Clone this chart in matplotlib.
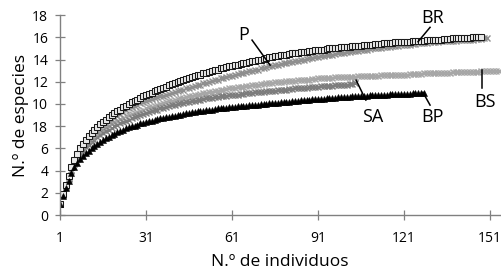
import matplotlib.pyplot as plt
import numpy as np

# species accumulation values, one per individual
br = [1.00, 1.90, 2.70, 3.50, 4.30, 5.00, 5.50, 6.00, 6.40, 6.80,
      7.10, 7.40, 7.70, 7.95, 8.20, 8.40, 8.60, 8.80, 9.00, 9.20,
      9.35, 9.50, 9.70, 9.85, 10.00, 10.15, 10.30, 10.40, 10.55, 10.70,
      10.80, 10.90, 11.00, 11.15, 11.25, 11.35, 11.45, 11.55, 11.70, 11.80,
      11.90, 12.00, 12.05, 12.15, 12.25, 12.35, 12.45, 12.50, 12.60, 12.65,
      12.75, 12.80, 12.90, 12.95, 13.05, 13.10, 13.20, 13.25, 13.30, 13.40,
      13.45, 13.50, 13.55, 13.60, 13.65, 13.70, 13.75, 13.85, 13.90, 13.95,
      14.00, 14.05, 14.10, 14.20, 14.25, 14.30, 14.35, 14.40, 14.40, 14.45,
      14.50, 14.55, 14.60, 14.60, 14.65, 14.70, 14.70, 14.75, 14.80, 14.85,
      14.85, 14.90, 14.90, 14.95, 15.00, 15.00, 15.05, 15.05, 15.10, 15.10,
      15.15, 15.15, 15.20, 15.20, 15.25, 15.25, 15.30, 15.30, 15.35, 15.35,
      15.40, 15.40, 15.40, 15.45, 15.45, 15.50, 15.50, 15.55, 15.55, 15.55,
      15.60, 15.60, 15.60, 15.65, 15.65, 15.70, 15.70, 15.70, 15.75, 15.75,
      15.75, 15.80, 15.80, 15.80, 15.85, 15.85, 15.85, 15.90, 15.90, 15.90,
      15.90, 15.95, 15.95, 15.95, 16.00, 16.00, 16.00, 16.00]

p = [1.00, 1.85, 2.60, 3.35, 4.10, 4.80, 5.30, 5.75, 6.15, 6.50,
     6.80, 7.05, 7.30, 7.55, 7.80, 8.00, 8.20, 8.40, 8.60, 8.80,
     8.95, 9.10, 9.25, 9.45, 9.60, 9.70, 9.80, 9.95, 10.05, 10.20,
     10.30, 10.40, 10.45, 10.55, 10.60, 10.70, 10.75, 10.85, 10.90, 11.00,
     11.10, 11.15, 11.25, 11.30, 11.40, 11.45, 11.55, 11.60, 11.70, 11.75,
     11.85, 11.90, 12.00, 12.05, 12.15, 12.20, 12.30, 12.35, 12.45, 12.50,
     12.55, 12.60, 12.70, 12.75, 12.80, 12.85, 12.95, 13.00, 13.05, 13.10,
     13.20, 13.25, 13.30, 13.40, 13.45, 13.50, 13.55, 13.60, 13.65, 13.70,
     13.75, 13.80, 13.85, 13.90, 13.95, 14.00, 14.05, 14.10, 14.15, 14.20,
     14.25, 14.30, 14.35, 14.40, 14.40, 14.45, 14.50, 14.55, 14.60, 14.60,
     14.65, 14.70, 14.75, 14.80, 14.80, 14.85, 14.90, 14.90, 14.95, 15.00,
     15.00, 15.05, 15.05, 15.10, 15.15, 15.15, 15.20, 15.20, 15.25, 15.30,
     15.30, 15.35, 15.35, 15.40, 15.40, 15.45, 15.50, 15.50, 15.50, 15.55,
     15.55, 15.60, 15.60, 15.65, 15.65, 15.65, 15.70, 15.70, 15.70, 15.75,
     15.75, 15.75, 15.80, 15.80, 15.80, 15.85, 15.85, 15.85, 15.90, 15.90]

bs = [1.00, 1.85, 2.60, 3.35, 4.05, 4.70, 5.20, 5.60, 5.95, 6.30,
      6.55, 6.80, 7.05, 7.30, 7.50, 7.70, 7.90, 8.05, 8.25, 8.40,
      8.50, 8.65, 8.75, 8.90, 9.00, 9.10, 9.20, 9.30, 9.40, 9.50,
      9.60, 9.70, 9.75, 9.85, 9.95, 10.00, 10.10, 10.15, 10.25, 10.30,
      10.35, 10.45, 10.50, 10.55, 10.60, 10.70, 10.75, 10.80, 10.85, 10.90,
      10.95, 11.00, 11.05, 11.10, 11.15, 11.20, 11.25, 11.30, 11.35, 11.40,
      11.40, 11.45, 11.50, 11.55, 11.55, 11.60, 11.65, 11.70, 11.70, 11.75,
      11.80, 11.80, 11.85, 11.90, 11.90, 11.95, 11.95, 12.00, 12.00, 12.05,
      12.05, 12.10, 12.10, 12.15, 12.15, 12.20, 12.20, 12.20, 12.25, 12.25,
      12.30, 12.30, 12.30, 12.35, 12.35, 12.35, 12.40, 12.40, 12.40, 12.40,
      12.45, 12.45, 12.45, 12.45, 12.50, 12.50, 12.50, 12.50, 12.55, 12.55,
      12.55, 12.55, 12.60, 12.60, 12.60, 12.60, 12.60, 12.65, 12.65, 12.65,
      12.65, 12.65, 12.70, 12.70, 12.70, 12.70, 12.70, 12.75, 12.75, 12.75,
      12.75, 12.75, 12.80, 12.80, 12.80, 12.80, 12.80, 12.85, 12.85, 12.85,
      12.85, 12.85, 12.90, 12.90, 12.90, 12.90, 12.90, 12.95, 12.95, 12.95,
      12.95, 13.00, 13.00, 13.00]

sa = [1.00, 1.80, 2.50, 3.25, 3.95, 4.60, 5.05, 5.45, 5.80, 6.10,
      6.35, 6.60, 6.80, 7.00, 7.20, 7.35, 7.55, 7.70, 7.85, 8.00,
      8.10, 8.25, 8.35, 8.50, 8.60, 8.70, 8.80, 8.90, 9.00, 9.10,
      9.20, 9.25, 9.35, 9.45, 9.50, 9.60, 9.65, 9.75, 9.80, 9.90,
      9.95, 10.00, 10.05, 10.10, 10.15, 10.20, 10.25, 10.30, 10.35, 10.40,
      10.45, 10.50, 10.55, 10.55, 10.60, 10.65, 10.70, 10.70, 10.75, 10.80,
      10.80, 10.85, 10.85, 10.90, 10.90, 10.95, 11.00, 11.00, 11.05, 11.05,
      11.10, 11.10, 11.15, 11.20, 11.20, 11.20, 11.25, 11.25, 11.30, 11.30,
      11.35, 11.35, 11.40, 11.40, 11.40, 11.45, 11.45, 11.50, 11.50, 11.55,
      11.55, 11.60, 11.60, 11.60, 11.65, 11.65, 11.70, 11.70, 11.70, 11.75,
      11.75, 11.80, 11.80, 11.85]

bp = [1.00, 1.75, 2.40, 3.10, 3.75, 4.30, 4.70, 5.05, 5.35, 5.60,
      5.80, 6.00, 6.20, 6.40, 6.60, 6.75, 6.90, 7.05, 7.20, 7.30,
      7.45, 7.55, 7.65, 7.80, 7.90, 8.00, 8.05, 8.15, 8.25, 8.30,
      8.40, 8.45, 8.50, 8.55, 8.65, 8.70, 8.75, 8.80, 8.85, 8.90,
      8.95, 9.00, 9.05, 9.10, 9.15, 9.20, 9.25, 9.30, 9.35, 9.40,
      9.40, 9.45, 9.50, 9.50, 9.55, 9.60, 9.60, 9.65, 9.65, 9.70,
      9.72, 9.75, 9.78, 9.80, 9.83, 9.85, 9.88, 9.90, 9.93, 9.95,
      9.98, 10.00, 10.03, 10.05, 10.08, 10.10, 10.13, 10.15, 10.18, 10.20,
      10.22, 10.25, 10.27, 10.30, 10.32, 10.35, 10.37, 10.40, 10.42, 10.44,
      10.45, 10.47, 10.49, 10.51, 10.53, 10.55, 10.57, 10.59, 10.61, 10.63,
      10.65, 10.66, 10.68, 10.70, 10.71, 10.73, 10.74, 10.76, 10.77, 10.79,
      10.80, 10.81, 10.83, 10.84, 10.85, 10.86, 10.88, 10.89, 10.90, 10.91,
      10.92, 10.93, 10.94, 10.95, 10.96, 10.97, 10.99, 11.00]

xticks = [1, 31, 61, 91, 121, 151]
yticks = [0, 2, 4, 6, 8, 10, 12, 14, 16, 18]
ylabels = ['0', '2', '4', '6', '18', '10', '12', '14', '16', '18']

plt.rcParams['font.family'] = ['Open Sans', 'DejaVu Sans']

fig = plt.figure(figsize=(5.02, 2.75), dpi=100)
ax = fig.add_axes([0.1195, 0.218, 0.8765, 0.727])

def n(vals):
    return np.arange(1, len(vals) + 1)

ax.plot(n(bs), bs, ls='none', marker='x', ms=5, mew=1.0, color='#a6a6a6')
ax.plot(n(sa), sa, ls='none', marker='x', ms=5, mew=1.0, color='#7c7c7c')
ax.plot(n(p), p, ls='none', marker='x', ms=5, mew=1.0, color='#8e8e8e')
ax.plot(n(br), br, ls='none', marker='s', ms=4.3, mew=0.75,
        mfc='#e8e8e8', mec='#1a1a1a')
ax.plot(n(bp), bp, ls='none', marker='^', ms=4.8, mew=0.4, color='black')

# labels with leader lines
notes = [('P', (68.0, 15.75), (74.3, 13.5), (65.2, 16.2)),
         ('BR', (130.1, 16.9), (125.9, 15.6), (131.0, 17.7)),
         ('BS', (148.2, 13.05), (148.2, 11.4), (149.3, 10.2)),
         ('SA', (104.3, 12.15), (107.7, 10.35), (110.2, 8.8)),
         ('BP', (127.6, 11.05), (130.1, 9.9), (130.8, 8.8))]
for name, a, b, t in notes:
    ax.plot([a[0], b[0]], [a[1], b[1]], color='black', lw=1.1)
    ax.text(t[0], t[1], name, fontsize=13, ha='center', va='center')

ax.set_xlim(1, 154.5)
ax.set_ylim(0, 18)
ax.set_xticks(xticks)
ax.set_yticks(yticks)
ax.set_yticklabels(ylabels)
ax.tick_params(direction='inout', length=7, width=0.9, color='#808080',
               labelsize=10, pad=5)
ax.tick_params(axis='x', pad=8)
for s in ['top', 'right']:
    ax.spines[s].set_visible(False)
for s in ['left', 'bottom']:
    ax.spines[s].set_color('#808080')
    ax.spines[s].set_linewidth(1.0)
    ax.spines[s].set_clip_on(False)

ax.set_xlabel('N.º de individuos', fontsize=12.5, labelpad=6)
ax.set_ylabel('N.º de especies', fontsize=12.5, labelpad=2)

fig.savefig('out.png', dpi=100)
